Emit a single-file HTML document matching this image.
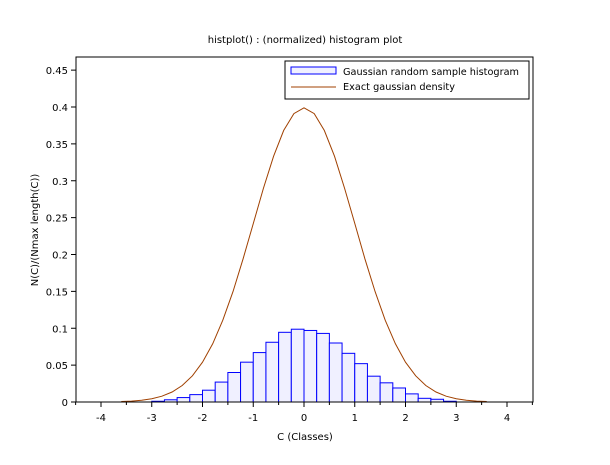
<!DOCTYPE html><html><head><style>body{margin:0;background:#fff}svg{font-family:"DejaVu Sans","Liberation Sans",sans-serif}</style></head><body>
<svg id="s" width="610" height="460" xmlns="http://www.w3.org/2000/svg">
<rect width="610" height="460" fill="#fff"/>
<text x="305" y="43" font-size="10" text-anchor="middle">histplot() : (normalized) histogram plot</text>
<g id="g"></g>
<rect x="76" y="57" width="457" height="345" fill="none" stroke="#000" stroke-width="1"/>
<text x="305" y="440" font-size="10" text-anchor="middle">C (Classes)</text>
<text transform="translate(38,230) rotate(-90)" font-size="10" text-anchor="middle">N(C)/(Nmax length(C))</text>
<rect x="285" y="61" width="244" height="38" fill="#fff" stroke="#000"/>
<rect x="291" y="67" width="45" height="7" fill="#f0f0ff" stroke="#00f"/>
<text x="343" y="75" font-size="10" textLength="176" lengthAdjust="spacingAndGlyphs">Gaussian random sample histogram</text>
<line x1="291" y1="87" x2="336" y2="87" stroke="#a04000"/>
<text x="343" y="90" font-size="10" textLength="112" lengthAdjust="spacingAndGlyphs">Exact gaussian density</text>
</svg>
<script>
var g=document.getElementById('g'),h='';
function X(v){return 304+v*50.75}function Y(v){return 402-v*737.5}
var hs=[0.001,0.003,0.006,0.010,0.016,0.027,0.040,0.054,0.067,0.081,0.0945,0.0987,0.097,0.093,0.080,0.066,0.052,0.035,0.026,0.019,0.011,0.005,0.0037,0.001];
for(var i=0;i<hs.length;i++){var a=-3+i*0.25;h+='<rect x="'+X(a)+'" y="'+Y(hs[i])+'" width="'+(0.25*50.75)+'" height="'+(hs[i]*737.5)+'" fill="#f0f0ff" stroke="#00f" stroke-width="1"/>';}
var p=[];for(var v=-3.6;v<=3.61;v+=0.2){p.push(X(v).toFixed(1)+','+Y(Math.exp(-v*v/2)/Math.sqrt(2*Math.PI)).toFixed(1));}
h+='<polyline points="'+p.join(' ')+'" fill="none" stroke="#a04000" stroke-width="1"/>';
for(var k=-4.5;k<=4.51;k+=0.5){var x=X(k);var maj=Math.abs(k-Math.round(k))<1e-6;h+='<line x1="'+x+'" y1="402" x2="'+x+'" y2="'+(maj?407:405)+'" stroke="#000"/>';if(maj)h+='<text x="'+x+'" y="421" font-size="10" text-anchor="middle">'+Math.round(k)+'</text>';}
for(var j=0;j<=9;j++){var y=Y(j*0.05);h+='<line x1="71" y1="'+y+'" x2="76" y2="'+y+'" stroke="#000"/><text x="68" y="'+(y+4)+'" font-size="10" text-anchor="end">'+(j==0?'0':+(j*0.05).toFixed(2))+'</text>';}
g.innerHTML=h;
</script>
</body></html>
